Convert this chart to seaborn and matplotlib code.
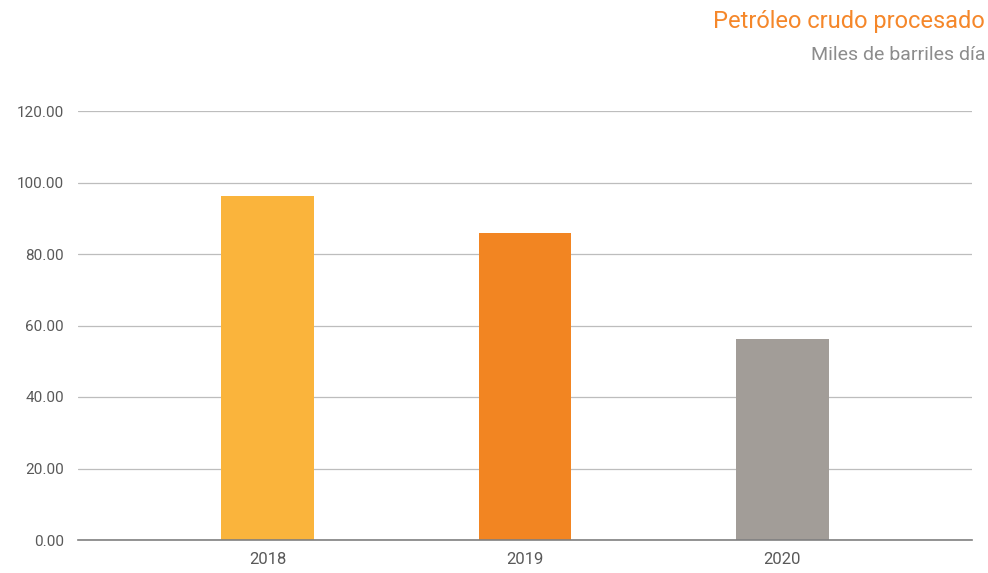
import matplotlib
matplotlib.use('Agg')
import matplotlib.pyplot as plt
import pandas as pd
import seaborn as sns

years = ['2018', '2019', '2020']
values = [96.2, 85.9, 56.2]
bar_colors = ['#FAB43C', '#F28522', '#A29D98']
y_ticks = [0, 20, 40, 60, 80, 100, 120]

title = 'Petróleo crudo procesado'
subtitle = 'Miles de barriles día'

sns.set_style('white')
plt.rcParams['font.family'] = ['Roboto', 'DejaVu Sans']

df = pd.DataFrame({'year': years, 'value': values})

fig = plt.figure(figsize=(9.88, 5.73), dpi=100)
ax = fig.add_axes([78 / 988, 1 - 540 / 573, (972 - 78) / 988, (540 - 111) / 573])

sns.barplot(data=df, x='year', y='value', hue='year', palette=bar_colors,
            width=0.36, legend=False, ax=ax, saturation=1, linewidth=0)

ax.set_xlim(-0.736, 2.736)
ax.set_ylim(0, 120)
ax.set_yticks(y_ticks)
ax.set_yticklabels(['{:.2f}'.format(v) for v in y_ticks])
ax.yaxis.grid(True, color='#BDBDBD', linewidth=0.9)
ax.set_axisbelow(True)
ax.set_xlabel('')
ax.set_ylabel('')

for side in ['top', 'right', 'left']:
    ax.spines[side].set_visible(False)
ax.spines['bottom'].set_color('#808080')
ax.spines['bottom'].set_linewidth(1.2)

ax.tick_params(axis='y', length=0, pad=10, labelsize=11, labelcolor='#595959')
ax.tick_params(axis='x', length=0, pad=9, labelsize=12, labelcolor='#595959')

fig.text(0.997, 0.952, title, ha='right', va='baseline', fontsize=17, color='#F5872A')
fig.text(0.997, 0.895, subtitle, ha='right', va='baseline', fontsize=14, color='#8C8C8C')

fig.savefig('out.png', dpi=100)
